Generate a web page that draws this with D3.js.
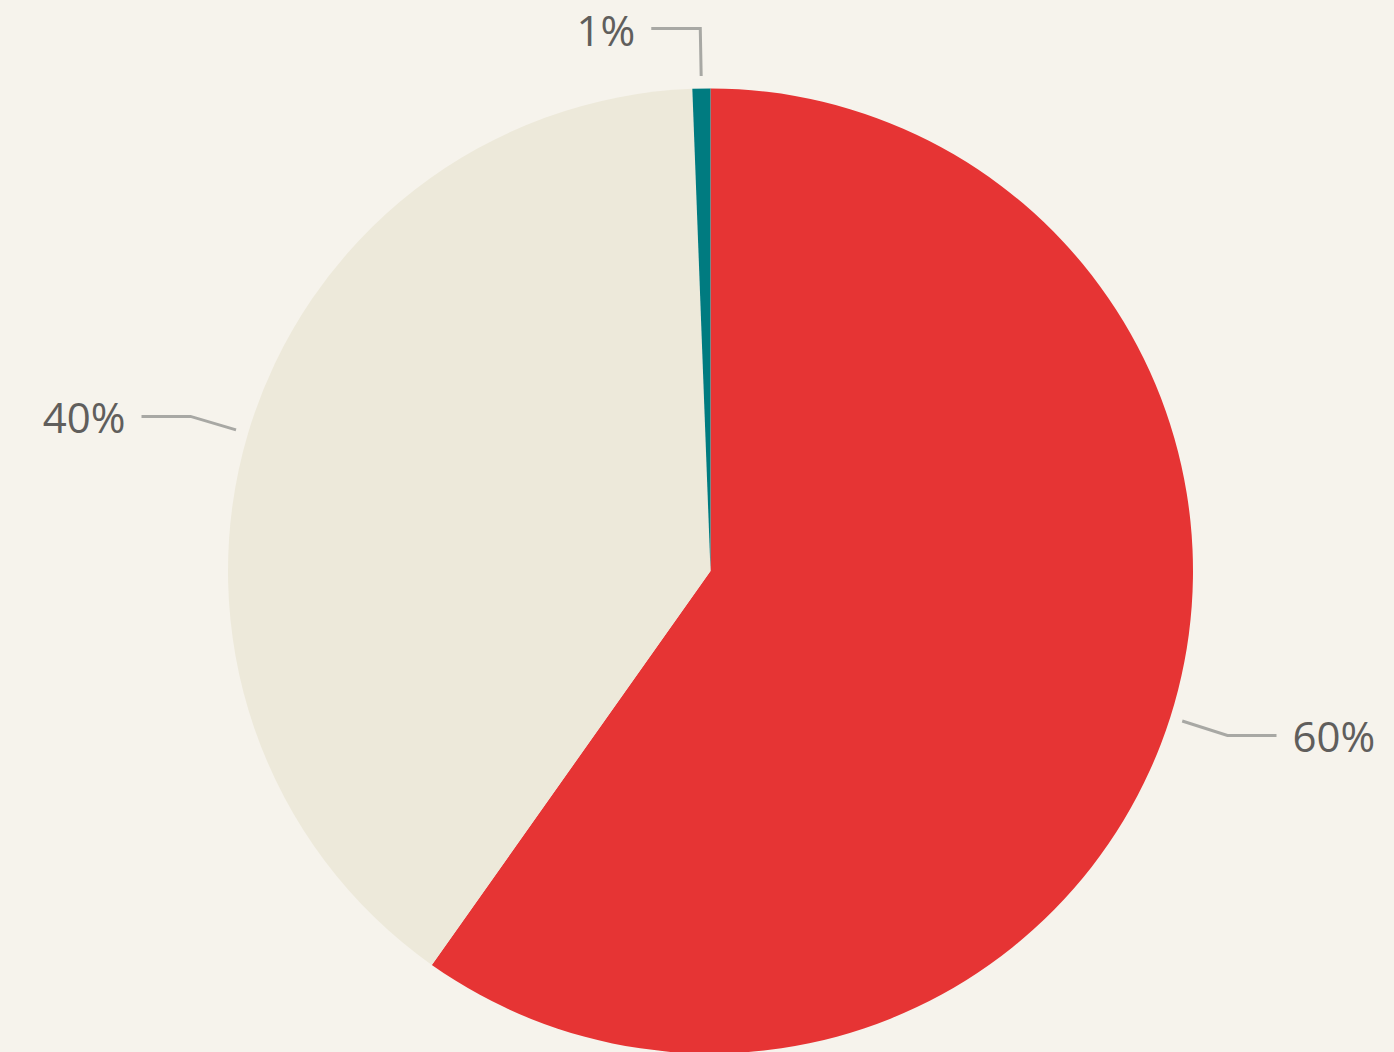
<!DOCTYPE html>
<html><head><meta charset="utf-8">
<script src="https://cdn.jsdelivr.net/npm/d3@7"></script>
<style>
html,body{margin:0;padding:0;background:#f6f3ec;}
svg{display:block;}
</style></head>
<body><svg id="c" width="1394" height="1052"></svg>
<script>
const categories = ["A", "B", "C"];
const values = [59.8, 39.6, 0.6];
const colors = ["#e63434", "#ede9da", "#007b80"];

const W = 1394, H = 1052;
const cx = 710.5, cy = 571, R = 482.5;
const svg = d3.select("#c");
svg.append("rect").attr("width", W).attr("height", H).attr("fill", "#f6f3ec");

const data = categories.map((c, i) => ({cat: c, value: values[i], color: colors[i]}));
const total = d3.sum(values);
const pie = d3.pie().value(d => d.value).sort(null);
const arcs = pie(data);
const arc = d3.arc().innerRadius(0).outerRadius(R);

const g = svg.append("g").attr("transform", `translate(${cx},${cy})`);
g.selectAll("path.slice").data(arcs).join("path")
  .attr("class", "slice")
  .attr("d", arc)
  .attr("fill", d => d.data.color);

const r1 = R + 12.5, r2 = R + 60, hLen = 49, gap = 16;
arcs.forEach(d => {
  const a = (d.startAngle + d.endAngle) / 2;
  const sx = Math.sin(a), sy = -Math.cos(a);
  const p1 = [r1 * sx, r1 * sy];
  const p2 = [r2 * sx, r2 * sy];
  const right = sx > 0.001;
  const p3 = [p2[0] + (right ? hLen : -hLen), p2[1]];
  g.append("polyline")
    .attr("points", [p1, p2, p3].map(p => p.join(",")).join(" "))
    .attr("fill", "none").attr("stroke", "#a8a8a4").attr("stroke-width", 3);
  g.append("text")
    .attr("x", p3[0] + (right ? gap : -gap))
    .attr("y", p3[1] + 17)
    .attr("text-anchor", right ? "start" : "end")
    .attr("font-family", "'Open Sans', 'Segoe UI', sans-serif")
    .attr("font-size", 42)
    .attr("fill", "#605e5c")
    .text(Math.round(d.data.value / total * 100) + "%");
});
</script></body></html>
